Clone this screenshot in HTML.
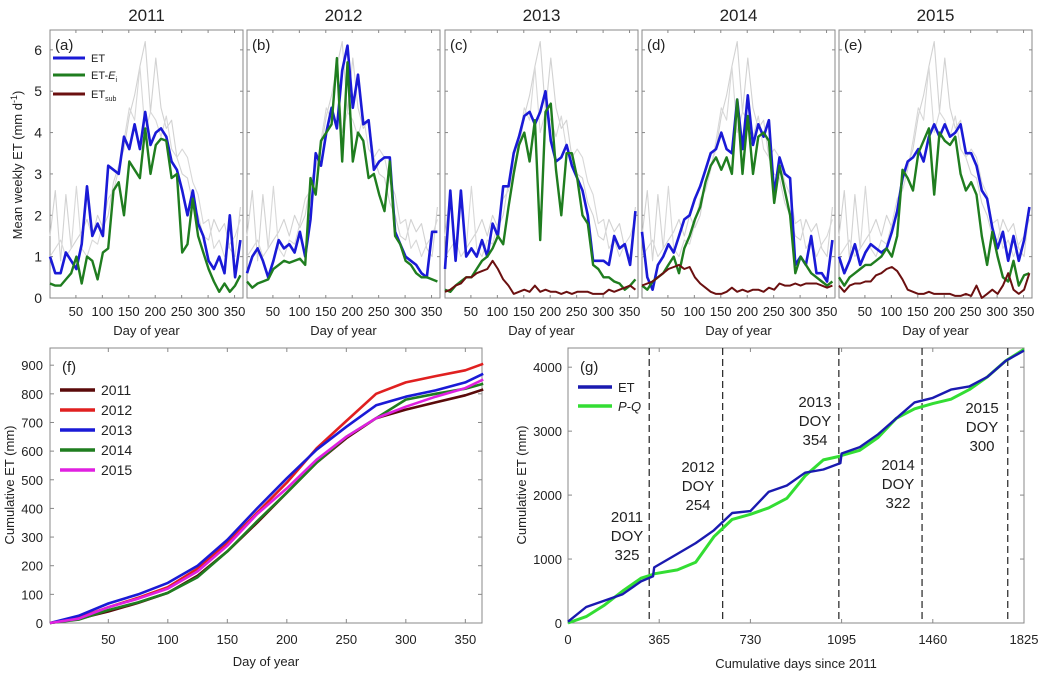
<!DOCTYPE html>
<html><head><meta charset="utf-8">
<style>
body{margin:0;background:#fff;}
svg{display:block;font-family:"Liberation Sans",Arial,sans-serif;}
</style></head>
<body>
<svg id="c" width="1050" height="677" viewBox="0 0 1050 677" xmlns="http://www.w3.org/2000/svg"></svg>
<script>
// ---------- data (top panels, every 10 days from day 1) ----------
const topYears = ["2011","2012","2013","2014","2015"];
const topLetters = ["(a)","(b)","(c)","(d)","(e)"];
const etA = [1.0,0.6,0.6,1.1,0.9,0.7,1.3,2.7,1.5,1.8,1.5,3.2,3.1,3.0,3.9,3.6,4.2,3.6,4.5,3.7,4.0,4.1,3.9,3.3,3.1,2.6,2.0,2.6,1.8,1.5,0.9,0.7,1.0,0.6,2.0,0.5,1.4];
const eiA = [0.35,0.3,0.3,0.45,0.6,1.0,0.35,1.0,0.9,0.45,1.1,1.2,2.6,2.8,2.0,3.3,3.1,2.9,4.1,3.0,3.7,3.85,3.8,2.9,3.0,1.1,1.3,2.4,1.5,1.1,0.7,0.4,0.15,0.35,0.15,0.3,0.55];
const etB = [0.6,1.0,1.2,0.9,0.5,0.9,1.4,1.2,1.3,1.1,1.6,1.0,1.9,3.5,3.2,4.0,4.6,4.1,5.5,6.1,4.6,5.4,4.2,4.3,3.1,3.3,3.4,3.4,1.6,1.3,1.0,0.9,0.8,0.6,0.5,1.6,1.6];
const eiB = [0.4,0.25,0.35,0.4,0.45,0.7,0.8,0.9,0.85,0.9,0.95,0.8,2.9,2.5,3.8,4.0,4.2,5.8,3.3,5.7,3.3,4.0,3.8,2.9,3.0,2.5,2.1,3.3,1.5,1.3,0.9,0.8,0.6,0.5,0.5,0.45,0.4];
const etC = [0.7,2.6,0.9,2.6,1.0,1.2,1.0,1.4,1.0,1.8,1.5,2.7,2.7,3.5,3.9,4.4,4.5,4.2,4.5,5.0,3.8,3.3,3.4,3.7,3.2,2.9,2.6,2.0,0.9,0.9,0.9,0.8,1.5,1.2,1.3,0.8,2.1];
const eiC = [0.2,0.15,0.3,0.4,0.5,0.5,0.7,0.9,1.0,1.2,1.5,1.3,2.2,3.0,3.7,4.0,3.3,4.3,1.4,4.5,4.7,3.1,2.0,3.5,3.5,2.9,2.0,1.8,0.8,0.7,0.5,0.5,0.4,0.35,0.2,0.3,0.45];
const subC = [0.15,0.2,0.3,0.35,0.5,0.5,0.6,0.65,0.7,0.9,0.7,0.45,0.3,0.1,0.15,0.2,0.15,0.3,0.15,0.2,0.15,0.15,0.1,0.15,0.1,0.15,0.15,0.15,0.1,0.1,0.1,0.2,0.15,0.2,0.25,0.3,0.2];
const etD = [1.6,0.5,0.2,0.8,1.0,1.3,1.1,1.5,1.9,2.0,2.4,2.7,3.1,3.5,3.6,4.0,3.6,3.5,4.8,3.6,4.9,3.7,4.2,3.9,4.3,2.5,3.4,3.0,2.9,0.8,1.0,0.8,1.5,0.6,0.6,0.4,1.4];
const eiD = [0.3,0.2,0.4,0.5,0.6,0.8,1.0,0.6,1.2,1.5,1.9,2.2,2.8,3.2,3.4,3.1,3.4,3.0,4.8,3.0,4.4,3.0,3.9,4.0,3.8,2.3,3.2,2.6,2.0,0.6,1.0,0.8,0.6,0.5,0.4,0.3,0.4];
const subD = [0.3,0.35,0.4,0.5,0.6,0.7,0.75,0.8,0.7,0.75,0.5,0.35,0.25,0.15,0.1,0.1,0.15,0.25,0.15,0.2,0.15,0.2,0.2,0.15,0.25,0.2,0.35,0.3,0.3,0.35,0.3,0.35,0.35,0.35,0.3,0.25,0.3];
const etE = [1.0,0.6,0.9,1.3,0.8,1.1,1.3,1.2,1.1,1.2,1.6,2.1,2.9,3.3,3.4,3.6,3.3,3.9,4.2,3.9,4.2,3.9,4.0,4.2,3.5,3.5,3.2,2.6,2.4,1.7,1.2,1.6,0.9,1.5,0.9,1.4,2.2];
const eiE = [0.5,0.3,0.5,0.6,0.7,0.8,0.8,0.9,1.0,1.2,1.0,1.5,3.1,2.9,2.6,3.5,3.8,4.1,2.5,4.0,3.8,3.7,3.9,3.0,2.6,2.8,2.5,1.5,0.8,1.6,1.0,0.5,0.4,0.9,0.3,0.55,0.6];
const subE = [0.3,0.15,0.3,0.35,0.35,0.4,0.4,0.55,0.6,0.7,0.75,0.65,0.45,0.2,0.15,0.1,0.1,0.15,0.1,0.1,0.1,0.1,0.05,0.05,0.1,0.05,0.3,0.0,0.1,0.2,0.1,0.3,0.6,0.2,0.1,0.2,0.6];
const gray1 = [1.5,2.6,0.9,2.5,1.2,1.4,1.6,1.9,1.5,2.0,1.7,2.0,2.8,3.2,3.6,4.4,4.9,5.6,6.2,4.5,5.8,4.6,4.1,4.3,3.4,3.0,2.9,2.3,2.0,1.5,1.4,1.9,1.6,1.8,1.2,1.0,2.2];
const gray2 = [1.0,1.2,1.4,1.0,1.2,2.7,1.2,1.0,1.4,1.3,1.8,2.4,2.6,3.1,3.8,4.6,4.3,5.6,4.0,4.5,4.3,3.9,4.4,3.6,3.4,3.6,3.4,2.8,2.5,1.8,1.9,1.2,1.4,1.0,1.3,1.5,1.9];
const etSeries = [etA,etB,etC,etD,etE];
const eiSeries = [eiA,eiB,eiC,eiD,eiE];
const subSeries = [null,null,subC,subD,subE];
const topXTicks = [50,100,150,200,250,300,350];
const topYTicks = [0,1,2,3,4,5,6];
// ---------- panel f ----------
const fDays = [1,25,50,75,100,125,150,175,200,225,250,275,300,325,350,365];
const cum2011 = [0,15,40,70,105,165,250,350,455,560,645,715,745,770,795,815];
const cum2012 = [0,18,55,88,125,190,280,385,490,610,705,800,840,862,882,905];
const cum2013 = [0,25,68,100,140,200,290,400,505,605,685,760,790,812,840,870];
const cum2014 = [0,12,45,72,105,160,250,355,455,560,650,715,780,800,818,835];
const cum2015 = [0,15,55,85,120,180,270,380,470,570,650,715,755,790,820,850];
const fNames = ["2011","2012","2013","2014","2015"];
const fXTicks = [50,100,150,200,250,300,350];
const fYTicks = [0,100,200,300,400,500,600,700,800,900];
// ---------- panel g ----------
const gDays = [0,73,146,219,292,340,345,438,511,584,657,730,803,876,949,1022,1090,1095,1168,1241,1314,1387,1460,1533,1606,1679,1752,1825];
const gET   = [20,250,350,450,650,730,870,1080,1250,1450,1720,1750,2050,2150,2350,2400,2500,2650,2750,2950,3200,3450,3520,3650,3700,3850,4100,4260];
const gPQ   = [0,100,280,500,700,760,770,830,950,1350,1620,1700,1800,1950,2300,2550,2610,2620,2700,2900,3200,3350,3430,3500,3650,3850,4100,4280];
const gXTicks = [0,365,730,1095,1460,1825];
const gYTicks = [0,1000,2000,3000,4000];
const breakDays = [325,619,1084,1417,1760];
const breakYears = ["2011","2012","2013","2014","2015"];
const breakDoy = ["325","254","354","322","300"];

const svg = document.getElementById('c');
const NS = "http://www.w3.org/2000/svg";
function mk(tag, attrs, parent){const e=document.createElementNS(NS,tag);for(const k in attrs)e.setAttribute(k,attrs[k]);(parent||svg).appendChild(e);return e;}
function txt(x,y,s,size,anchor,parent,extra){const t=mk('text',Object.assign({x:x,y:y,'font-size':size,'text-anchor':anchor||'middle',fill:'#222'},extra||{}),parent);t.textContent=s;return t;}
function poly(xs,ys,sx,sy,color,w,parent){let d='';for(let i=0;i<xs.length;i++){d+=(i?'L':'M')+sx(xs[i]).toFixed(1)+','+sy(ys[i]).toFixed(1);}return mk('path',{d:d,fill:'none',stroke:color,'stroke-width':w,'stroke-linejoin':'round'},parent);}

// ---------- top panels ----------
const topLeft=[50,247,445,642,839], pw=193, pTop=30, pBot=298;
const tDays = etA.map((_,i)=>1+i*10);
topYears.forEach((yr,p)=>{
  const L=topLeft[p];
  const g=mk('g',{});
  
  
  const sx=d=>L+(d-1)/365*pw, sy=v=>pBot-v/6.48*(pBot-pTop);
  const fr=mk('rect',{x:L,y:pTop,width:pw,height:pBot-pTop,fill:'#fff',stroke:'#888','stroke-width':1},g);
   
  const tt=txt(L+pw/2,21,yr,17,'middle',g);
   
  topXTicks.forEach(t=>{mk('line',{x1:sx(t),x2:sx(t),y1:pBot,y2:pBot-3,stroke:'#888'},g);mk('line',{x1:sx(t),x2:sx(t),y1:pTop,y2:pTop+3,stroke:'#888'},g);
    const l=txt(sx(t),316,String(t),13,'middle',g);});
  topYTicks.forEach(t=>{mk('line',{x1:L,x2:L+3,y1:sy(t),y2:sy(t),stroke:'#888'},g);mk('line',{x1:L+pw,x2:L+pw-3,y1:sy(t),y2:sy(t),stroke:'#888'},g);
    if(p===0){const l=txt(L-8,sy(t)+5,String(t),14,'end',g);}});
  const xl=txt(L+pw/2,335,'Day of year',13,'middle',g);
  const g1=poly(tDays,gray1,sx,sy,'#d2d2d2',1.1,g);
  const g2=poly(tDays,gray2,sx,sy,'#d8d8d8',1.1,g);
  const b=poly(tDays,etSeries[p],sx,sy,'#1a1ad6',2.6,g);
  const gr=poly(tDays,eiSeries[p],sx,sy,'#1f7d1f',2.4,g);
  if(subSeries[p]){const s=poly(tDays,subSeries[p],sx,sy,'#6b1010',2,g);}
  const lt=txt(L+5,50,topLetters[p],15,'start',g);
});
const yl=txt(0,0,'',13,'middle',svg,{transform:'translate(22,165) rotate(-90)'});
yl.innerHTML='Mean weekly ET (mm d<tspan font-size="9" dy="-5">-1</tspan><tspan dy="5">)</tspan>';
 
// legend a
const legA=mk('g',{});  
[['ET','#1a1ad6',58],['ET-Ei','#1f7d1f',75],['ETsub','#6b1010',94]].forEach((e,i)=>{
  const le=mk('g',{},legA);  
  mk('line',{x1:53,x2:85,y1:e[2],y2:e[2],stroke:e[1],'stroke-width':3},le);
  const t=txt(91,e[2]+4,'',11,'start',le);
  if(i===0)t.textContent='ET';
  else if(i===1)t.innerHTML='ET-<tspan font-style="italic">E</tspan><tspan font-size="7" dy="3">i</tspan>';
  else t.innerHTML='ET<tspan font-size="7" dy="3">sub</tspan>';
});

// ---------- panel f ----------
(function(){
  const L=50,R=482,T=348,B=623;
  const sx=d=>L+(d-1)/(364-1)*(R-L), sy=v=>B-v/960*(B-T);
  const g=mk('g',{});  
  mk('rect',{x:L,y:T,width:R-L,height:B-T,fill:'#fff',stroke:'#888'},g);
  fXTicks.forEach(t=>{mk('line',{x1:sx(t),x2:sx(t),y1:B,y2:B-4,stroke:'#888'},g);mk('line',{x1:sx(t),x2:sx(t),y1:T,y2:T+4,stroke:'#888'},g);
    const l=txt(sx(t),644,String(t),13,'middle',g);});
  fYTicks.forEach(t=>{mk('line',{x1:L,x2:L+4,y1:sy(t),y2:sy(t),stroke:'#888'},g);mk('line',{x1:R,x2:R-4,y1:sy(t),y2:sy(t),stroke:'#888'},g);
    const l=txt(L-7,sy(t)+5,String(t),13,'end',g);});
  const cols=['#5a0a0a','#e02020','#1a1ad6','#1f7d1f','#e020e0'];
  [cum2011,cum2012,cum2013,cum2014,cum2015].forEach((s,i)=>{const l=poly(fDays,s,sx,sy,cols[i],2.6,g);});
  const xl=txt((L+R)/2,666,'Day of year',13,'middle',g);
  const yl=txt(0,0,'Cumulative ET (mm)',13,'middle',g,{transform:'translate(14,485) rotate(-90)'});
  const lb=txt(62,372,'(f)',15,'start',g);
  const leg=mk('g',{},g);  
  fNames.forEach((n,i)=>{const y=390+i*20;const le=mk('g',{},leg);
    mk('line',{x1:60,x2:95,y1:y,y2:y,stroke:cols[i],'stroke-width':3.5},le);txt(101,y+5,n,14,'start',le);});
})();

// ---------- panel g ----------
(function(){
  const L=568,R=1024,T=348,B=623;
  const sx=d=>L+d/1825*(R-L), sy=v=>B-v/4300*(B-T);
  const g=mk('g',{});  
  mk('rect',{x:L,y:T,width:R-L,height:B-T,fill:'#fff',stroke:'#888'},g);
  gXTicks.forEach(t=>{mk('line',{x1:sx(t),x2:sx(t),y1:B,y2:B-4,stroke:'#888'},g);mk('line',{x1:sx(t),x2:sx(t),y1:T,y2:T+4,stroke:'#888'},g);
    const l=txt(sx(t),644,String(t),13,'middle',g);});
  gYTicks.forEach(t=>{mk('line',{x1:L,x2:L+4,y1:sy(t),y2:sy(t),stroke:'#888'},g);mk('line',{x1:R,x2:R-4,y1:sy(t),y2:sy(t),stroke:'#888'},g);
    const l=txt(L-6,sy(t)+5,String(t),13,'end',g);});
  breakDays.forEach((d,i)=>{const ln=mk('line',{x1:sx(d),x2:sx(d),y1:T,y2:B,stroke:'#222','stroke-width':1.2,'stroke-dasharray':'7,4'},g);
    });
  const pq=poly(gDays,gPQ,sx,sy,'#33dd33',3,g);
  const et=poly(gDays,gET,sx,sy,'#1a1ab0',2.4,g);
  const ann=[[627,522],[698,472],[815,407],[898,470],[982,413]];
  ann.forEach((a,i)=>{const gg=mk('g',{},g);
    txt(a[0],a[1],breakYears[i],15,'middle',gg);txt(a[0],a[1]+19,'DOY',15,'middle',gg);txt(a[0],a[1]+38,breakDoy[i],15,'middle',gg);});
  const xl=txt((L+R)/2,668,'Cumulative days since 2011',13,'middle',g);
  const yl=txt(0,0,'Cumulative ET (mm)',13,'middle',g,{transform:'translate(526,485) rotate(-90)'});
  const lb=txt(580,372,'(g)',15,'start',g);
  const leg=mk('g',{},g);  
  [['ET','#1a1ab0',387],['P-Q','#33dd33',406]].forEach((e,i)=>{const le=mk('g',{},leg);
    mk('line',{x1:578,x2:612,y1:e[2],y2:e[2],stroke:e[1],'stroke-width':3.5},le);
    const t=txt(618,e[2]+5,e[0],13,'start',le); if(i===1)t.setAttribute('font-style','italic');});
})();
</script>
</body></html>
